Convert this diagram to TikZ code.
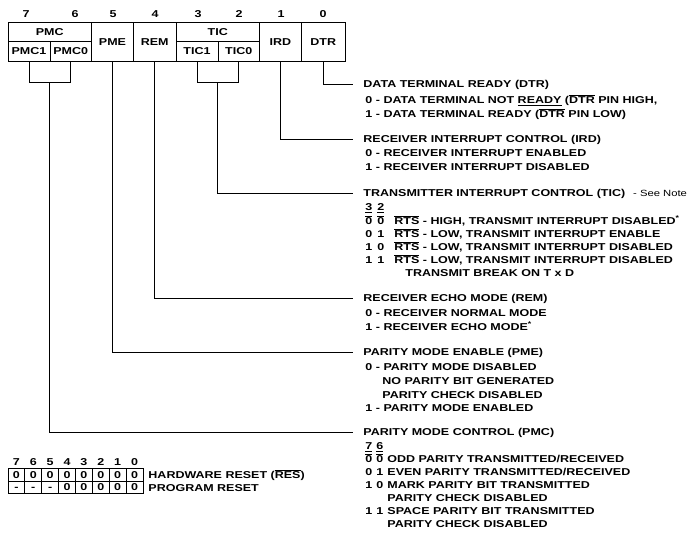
\documentclass[tikz,border=0pt]{standalone}
\usepackage{fontspec}
\setmainfont{Liberation Sans}[FakeStretch=1.25]
\usetikzlibrary{calc}
\newcommand\ovl[1]{$\overline{\hbox{#1}}$}
\newcommand\dg[2][12pt]{\makebox[#1][l]{#2}}
\begin{document}
\begin{tikzpicture}[x=1pt,y=-1pt,line width=0.9pt,
  font=\fontsize{10}{12}\selectfont\bfseries,
  regcell/.style={draw, inner sep=0pt, text height=7.2pt, text depth=0pt},
  txt/.style={anchor=west, inner sep=0pt, text height=7.2pt, text depth=0pt},
  bitno/.style={inner sep=0pt, text height=7.2pt, text depth=0pt},
  tcell/.style={draw, inner sep=0pt, minimum width=16.875pt, minimum height=12.5pt, text height=7.2pt, text depth=0pt},
  notefont/.style={font=\fontsize{9}{11}\selectfont\mdseries}]
\fill[white] (0,0) rectangle (693,534);
\useasboundingbox (0,0) rectangle (693,534);
% register
\node[regcell, minimum width=83.5pt, minimum height=19.5pt] (pmc) at (49.75,31.75) {PMC};
\node[regcell, minimum width=42pt, minimum height=19.5pt] (pmc1) at (29,51.25) {PMC1};
\node[regcell, minimum width=41.5pt, minimum height=19.5pt] (pmc0) at (70.75,51.25) {PMC0};
\node[regcell, minimum width=42pt, minimum height=39pt] (pme) at (112.5,41.5) {PME};
\node[regcell, minimum width=42.5pt, minimum height=39pt] (rem) at (154.75,41.5) {REM};
\node[regcell, minimum width=83.5pt, minimum height=19.5pt] (tic) at (217.75,31.75) {TIC};
\node[regcell, minimum width=42pt, minimum height=19.5pt] (tic1) at (197,51.25) {TIC1};
\node[regcell, minimum width=41.5pt, minimum height=19.5pt] (tic0) at (238.75,51.25) {TIC0};
\node[regcell, minimum width=42pt, minimum height=39pt] (ird) at (280.5,41.5) {IRD};
\node[regcell, minimum width=43.5pt, minimum height=39pt] (dtr) at (323.25,41.5) {DTR};
% bit numbers
\node[bitno] (b7) at (26,14) {7};
\node[bitno] (b6) at (75,14) {6};
\node[bitno] (b5) at (113,14) {5};
\node[bitno] (b4) at (155,14) {4};
\node[bitno] (b3) at (198,14) {3};
\node[bitno] (b2) at (239,14) {2};
\node[bitno] (b1) at (281,14) {1};
\node[bitno] (b0) at (323,14) {0};
% DTR
\node[txt] (h0) at (363,84) {DATA TERMINAL READY (DTR)};
\node[txt] (d01) at (365,100) {0 - DATA TERMINAL NOT \underline{READY} (\ovl{DTR} PIN HIGH,};
\node[txt] (d02) at (365,114) {1 - DATA TERMINAL READY (\ovl{DTR} PIN LOW)};
% IRD
\node[txt] (h1) at (363,139) {RECEIVER INTERRUPT CONTROL (IRD)};
\node[txt] (d11) at (365,153) {0 - RECEIVER INTERRUPT ENABLED};
\node[txt] (d12) at (365,167) {1 - RECEIVER INTERRUPT DISABLED};
% TIC
\node[txt] (h2) at (363,193) {TRANSMITTER INTERRUPT CONTROL (TIC)};
\node[notefont, anchor=south west, inner sep=0pt] (note) at ([xshift=7pt]h2.south east) {- See Note};
\node[txt] (d20) at (365,207) {\dg{\underline{3}}\underline{2}};
\node[txt] (d21) at (365,221) {\dg{\ovl{0}}\dg[17pt]{\ovl{0}}\ovl{RTS} - HIGH, TRANSMIT INTERRUPT DISABLED\textsuperscript{*}};
\node[txt] (d22) at (365,234) {\dg{0}\dg[17pt]{1}\ovl{RTS} - LOW, TRANSMIT INTERRUPT ENABLE};
\node[txt] (d23) at (365,247) {\dg{1}\dg[17pt]{0}\ovl{RTS} - LOW, TRANSMIT INTERRUPT DISABLED};
\node[txt] (d24) at (365,260) {\dg{1}\dg[17pt]{1}\ovl{RTS} - LOW, TRANSMIT INTERRUPT DISABLED};
\node[txt] (d25) at (405,273) {TRANSMIT BREAK ON T x D};
% REM
\node[txt] (h3) at (363,298) {RECEIVER ECHO MODE (REM)};
\node[txt] (d31) at (365,313) {0 - RECEIVER NORMAL MODE};
\node[txt] (d32) at (365,327) {1 - RECEIVER ECHO MODE\textsuperscript{*}};
% PME
\node[txt] (h4) at (363,352) {PARITY MODE ENABLE (PME)};
\node[txt] (d41) at (365,367) {0 - PARITY MODE DISABLED};
\node[txt] (d42) at (382,381) {NO PARITY BIT GENERATED};
\node[txt] (d43) at (382,395) {PARITY CHECK DISABLED};
\node[txt] (d44) at (365,408) {1 - PARITY MODE ENABLED};
% PMC
\node[txt] (h5) at (363,432) {PARITY MODE CONTROL (PMC)};
\node[txt] (d50) at (365,446) {\dg[11pt]{\underline{7}}\underline{6}};
\node[txt] (d51) at (365,459) {\dg[11pt]{\ovl{0}}\dg[11pt]{\ovl{0}}ODD PARITY TRANSMITTED/RECEIVED};
\node[txt] (d52) at (365,472) {\dg[11pt]{0}\dg[11pt]{1}EVEN PARITY TRANSMITTED/RECEIVED};
\node[txt] (d53) at (365,485) {\dg[11pt]{1}\dg[11pt]{0}MARK PARITY BIT TRANSMITTED};
\node[txt] (d54) at (387,498) {PARITY CHECK DISABLED};
\node[txt] (d55) at (365,511) {\dg[11pt]{1}\dg[11pt]{1}SPACE PARITY BIT TRANSMITTED};
\node[txt] (d56) at (387,524) {PARITY CHECK DISABLED};
% connectors
\draw (dtr.south) |- ([xshift=-10pt]h0.west);
\draw (ird.south) |- ([xshift=-10pt]h1.west);
\coordinate (ticb) at ($(tic1.south)!0.5!(tic0.south)+(0,21)$);
\draw (tic1.south) |- (ticb) -| (tic0.south);
\draw (ticb) |- ([xshift=-10pt]h2.west);
\draw (rem.south) |- ([xshift=-10pt]h3.west);
\draw (pme.south) |- ([xshift=-10pt]h4.west);
\coordinate (pmcb) at ($(pmc1.south)!0.5!(pmc0.south)+(0,21)$);
\draw (pmc1.south) |- (pmcb) -| (pmc0.south);
\draw (pmcb) |- ([xshift=-10pt]h5.west);
% reset table
\foreach \k [count=\j from 0] in {7,6,5,4,3,2,1,0} {
  \node[bitno] (tb\k) at ({8+16.875*\j+8.4375},462) {\k};
  \node[tcell] (ra\k) at ({8+16.875*\j+8.4375},474.75) {0};
}
\foreach \k/\v [count=\j from 0] in {7/-,6/-,5/-,4/0,3/0,2/0,1/0,0/0} {
  \node[tcell] (rb\k) at ({8+16.875*\j+8.4375},487.25) {\v};
}
\node[txt] (hw) at (148,475) {HARDWARE RESET (\ovl{RES})};
\node[txt] (pr) at (148,488) {PROGRAM RESET};
\end{tikzpicture}
\end{document}
